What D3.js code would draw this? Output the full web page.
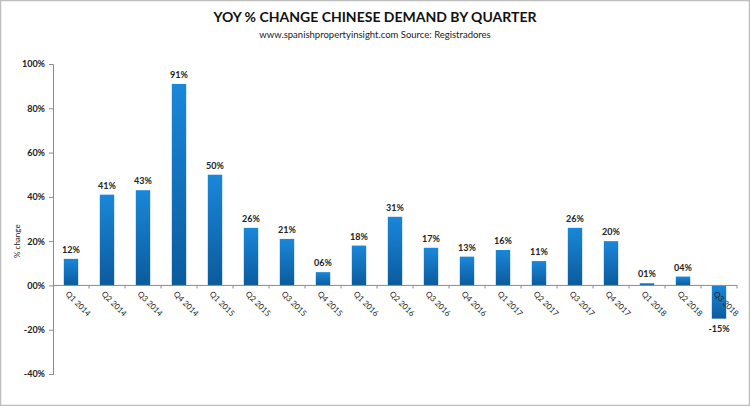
<!DOCTYPE html>
<html>
<head>
<meta charset="utf-8">
<script src="https://cdn.jsdelivr.net/npm/d3@7"></script>
<style>
  body { margin: 0; background: #fff; }
  text { font-family: Lato, 'Open Sans', sans-serif; }
</style>
</head>
<body>
<div id="chart"></div>
<script>
const quarters = ['Q1 2014', 'Q2 2014', 'Q3 2014', 'Q4 2014', 'Q1 2015', 'Q2 2015', 'Q3 2015', 'Q4 2015',
  'Q1 2016', 'Q2 2016', 'Q3 2016', 'Q4 2016', 'Q1 2017', 'Q2 2017', 'Q3 2017', 'Q4 2017',
  'Q1 2018', 'Q2 2018', 'Q3 2018']
const yoyChange = [12, 41, 43, 91, 50, 26, 21, 6, 18, 31, 17, 13, 16, 11, 26, 20, 1, 4, -15]
const yTicks = [-40, -20, 0, 20, 40, 60, 80, 100]

const width = 750, height = 406
const margin = {top: 64, right: 10, bottom: 32, left: 53}

const svg = d3.select('#chart').append('svg')
  .attr('width', width)
  .attr('height', height)

// outer frame
svg.append('rect')
  .attr('x', 0.5).attr('y', 0.5)
  .attr('width', width - 1).attr('height', height - 1)
  .attr('fill', '#fff')
  .attr('stroke', '#bdbdbd')
  .attr('stroke-width', 1.5)

const defs = svg.append('defs')
const grad = defs.append('linearGradient')
  .attr('id', 'barGrad')
  .attr('x1', 0).attr('y1', 0).attr('x2', 0).attr('y2', 1)
grad.append('stop').attr('offset', '0%').attr('stop-color', '#1a87d9')
grad.append('stop').attr('offset', '100%').attr('stop-color', '#0b5b9d')

// titles
svg.append('text')
  .text('YOY % CHANGE CHINESE DEMAND BY QUARTER')
  .attr('x', 375).attr('y', 22)
  .attr('text-anchor', 'middle')
  .style('font-size', '14px')
  .style('font-weight', 'bold')
  .attr('fill', '#111')
svg.append('text')
  .text('www.spanishpropertyinsight.com Source: Registradores')
  .attr('x', 375).attr('y', 38)
  .attr('text-anchor', 'middle')
  .style('font-size', '9.5px')
  .attr('fill', '#222')

const innerW = width - margin.left - margin.right
const x = d3.scaleBand()
  .domain(quarters)
  .range([margin.left, margin.left + innerW - 3])
  .paddingInner(0.6)
  .paddingOuter(0.3)
const y = d3.scaleLinear()
  .domain([-40, 100])
  .range([374, 64])

const axisColor = '#8c8c8c'

// y axis
const yAxis = svg.append('g')
  .attr('transform', `translate(${margin.left},0)`)
  .call(d3.axisLeft(y).tickValues(yTicks).tickSize(4)
    .tickFormat(d => (d < 0 ? '-' : '') + d3.format('02d')(Math.abs(d)) + '%'))
yAxis.select('.domain').attr('stroke', axisColor)
yAxis.selectAll('.tick line').attr('stroke', axisColor)
yAxis.selectAll('.tick text')
  .attr('fill', '#222')
  .attr('x', -8)
  .style('font-size', '9px')
  .style('font-weight', 'bold')
  .style('font-family', 'Lato, sans-serif')

svg.append('text')
  .text('% change')
  .attr('transform', `translate(20, ${y(20)}) rotate(-90)`)
  .attr('text-anchor', 'middle')
  .style('font-size', '8px')
  .attr('fill', '#222')

// bars
svg.append('g').selectAll('rect').data(quarters)
  .enter().append('rect')
  .attr('x', d => x(d))
  .attr('width', x.bandwidth())
  .attr('y', (d, i) => y(Math.max(0, yoyChange[i])))
  .attr('height', (d, i) => Math.abs(y(yoyChange[i]) - y(0)))
  .attr('fill', 'url(#barGrad)')

// x axis line and ticks at band boundaries
const step = x.step()
const xAxisG = svg.append('g')
xAxisG.append('line')
  .attr('x1', margin.left).attr('x2', x.range()[1])
  .attr('y1', y(0)).attr('y2', y(0))
  .attr('stroke', axisColor)
xAxisG.selectAll('.xtick').data(quarters)
  .enter().append('line')
  .attr('x1', d => x(d) + x.bandwidth() / 2 + step / 2)
  .attr('x2', d => x(d) + x.bandwidth() / 2 + step / 2)
  .attr('y1', y(0)).attr('y2', y(0) + 3)
  .attr('stroke', axisColor)

// category labels
svg.append('g').selectAll('text').data(quarters)
  .enter().append('text')
  .text(d => d)
  .attr('transform', d => `translate(${x(d) + x.bandwidth() / 2 - 6}, ${y(0) + 9}) rotate(45)`)
  .style('font-size', '8px')
  .attr('fill', '#222')

// value labels
svg.append('g').selectAll('text').data(quarters)
  .enter().append('text')
  .text((d, i) => (yoyChange[i] < 0 ? '-' : '') + d3.format('02d')(Math.abs(yoyChange[i])) + '%')
  .attr('x', d => x(d) + x.bandwidth() / 2)
  .attr('y', (d, i) => yoyChange[i] >= 0 ? y(yoyChange[i]) - 6 : y(yoyChange[i]) + 13)
  .attr('text-anchor', 'middle')
  .style('font-size', '9px')
  .style('font-weight', 'bold')
  .attr('fill', '#222')
</script>
</body>
</html>
